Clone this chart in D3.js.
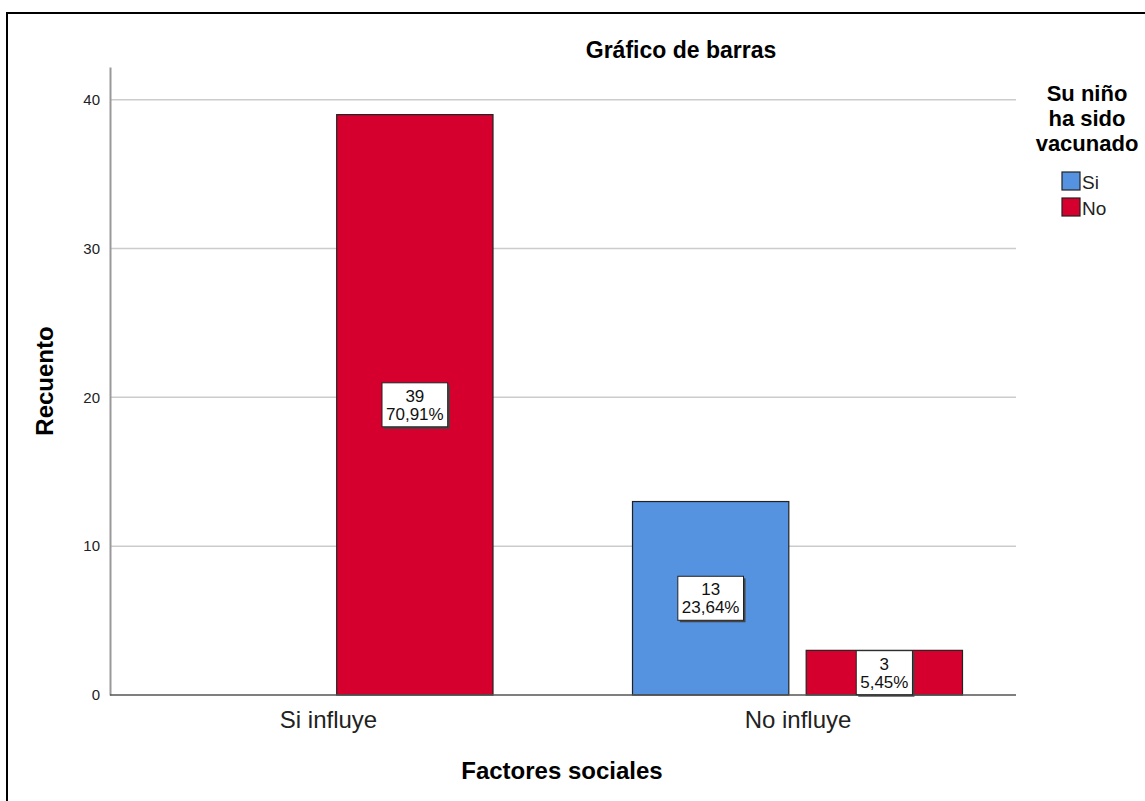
<!DOCTYPE html>
<html><head><meta charset="utf-8">
<script src="https://cdn.jsdelivr.net/npm/d3@7"></script>
<style>
html,body{margin:0;padding:0;background:#fff;}
svg text{font-family:"Liberation Sans",Arial,sans-serif;}
</style></head>
<body>
<svg id="chart" width="1145" height="801"></svg>
<script>
const categories = ["Si influye", "No influye"];
const series = ["Si", "No"];
const valuesSi = [0, 13];
const valuesNo = [39, 3];
const yTicks = [0, 10, 20, 30, 40];
const colors = {Si: "#5593E1", No: "#D6002F"};
const title = "Gráfico de barras";
const xTitle = "Factores sociales";
const yTitle = "Recuento";
const legendTitle = ["Su niño", "ha sido", "vacunado"];

(function () {
const total = d3.sum(valuesSi) + d3.sum(valuesNo);
const fmtPct = v => (v / total * 100).toFixed(2).replace(".", ",") + "%";

const svg = d3.select("#chart");

// outer border
svg.append("rect").attr("x", 7).attr("y", 13).attr("width", 1160).attr("height", 820)
  .attr("fill", "none").attr("stroke", "#000").attr("stroke-width", 2);

const pLeft = 110, pRight = 1016, pBottom = 695, pTop = 67;
const x = d3.scalePoint().domain(categories).range([328, 797.5]);
const xInner = d3.scaleBand().domain(series).range([-165, 165]).paddingInner(0.1);
const y = d3.scaleLinear().domain([0, 42.2]).range([pBottom, pTop]);

// gridlines
svg.append("g").selectAll("line").data(yTicks.filter(t => t > 0)).join("line")
  .attr("x1", pLeft).attr("x2", pRight).attr("y1", d => y(d)).attr("y2", d => y(d))
  .attr("stroke", "#cccccc").attr("stroke-width", 1.5);

// y axis
const yAxis = d3.axisLeft(y).tickValues(yTicks).tickSize(0).tickPadding(10).tickFormat(d3.format("d"));
const gy = svg.append("g").attr("transform", `translate(${pLeft},0)`).call(yAxis);
gy.select(".domain").attr("stroke", "#999").attr("stroke-width", 2);
gy.selectAll("text").attr("font-size", 15).attr("fill", "#222");

// bars
const data = [];
categories.forEach((c, i) => {
  data.push({cat: c, s: "Si", v: valuesSi[i]});
  data.push({cat: c, s: "No", v: valuesNo[i]});
});
const bars = data.filter(d => d.v > 0);
svg.append("g").selectAll("rect").data(bars).join("rect")
  .attr("x", d => x(d.cat) + xInner(d.s))
  .attr("width", xInner.bandwidth())
  .attr("y", d => y(d.v))
  .attr("height", d => y(0) - y(d.v))
  .attr("fill", d => colors[d.s])
  .attr("stroke", "#222").attr("stroke-width", 1.2);

// x axis
const xAxis = d3.axisBottom(x).tickSize(0).tickPadding(16);
const gx = svg.append("g").attr("transform", `translate(0,${pBottom})`).call(xAxis);
gx.select(".domain").attr("d", `M${pLeft},0H${pRight}`).attr("stroke", "#555").attr("stroke-width", 1.5);
gx.selectAll("text").attr("font-size", 24).attr("fill", "#222");

// labels
const lg = svg.append("g");
bars.forEach(d => {
  const cx = x(d.cat) + xInner(d.s) + xInner.bandwidth() / 2;
  const cy = (y(d.v) + y(0)) / 2;
  const g = lg.append("g");
  const t = g.append("text").attr("text-anchor", "middle").attr("font-size", 17).attr("fill", "#111");
  t.append("tspan").attr("x", cx).attr("y", cy - 3).text(d.v);
  t.append("tspan").attr("x", cx).attr("y", cy + 15).text(fmtPct(d.v));
  const w = t.node().getBBox().width + 8;
  g.insert("rect", "text").attr("x", cx - w / 2 + 2).attr("y", cy - 22 + 2).attr("width", w).attr("height", 44).attr("fill", "#444");
  g.insert("rect", "text").attr("x", cx - w / 2).attr("y", cy - 22).attr("width", w).attr("height", 44)
    .attr("fill", "#fff").attr("stroke", "#222").attr("stroke-width", 1);
});

// titles
svg.append("text").attr("x", 681).attr("y", 58).attr("text-anchor", "middle")
  .attr("font-size", 23).attr("font-weight", "bold").text(title);
svg.append("text").attr("x", 562).attr("y", 779).attr("text-anchor", "middle")
  .attr("font-size", 24).attr("font-weight", "bold").text(xTitle);
svg.append("text").attr("transform", "translate(53,381) rotate(-90)").attr("text-anchor", "middle")
  .attr("font-size", 24).attr("font-weight", "bold").text(yTitle);

// legend
legendTitle.forEach((l, i) => {
  svg.append("text").attr("x", 1087).attr("y", 101 + i * 25).attr("text-anchor", "middle")
    .attr("font-size", 22).attr("font-weight", "bold").text(l);
});
series.forEach((s, i) => {
  const yy = 172 + i * 26;
  svg.append("rect").attr("x", 1062).attr("y", yy).attr("width", 18).attr("height", 18)
    .attr("fill", colors[s]).attr("stroke", "#222").attr("stroke-width", 1.2);
  svg.append("text").attr("x", 1082).attr("y", yy + 17).attr("font-size", 19).attr("fill", "#222").text(s);
});
})();
</script>
</body></html>
